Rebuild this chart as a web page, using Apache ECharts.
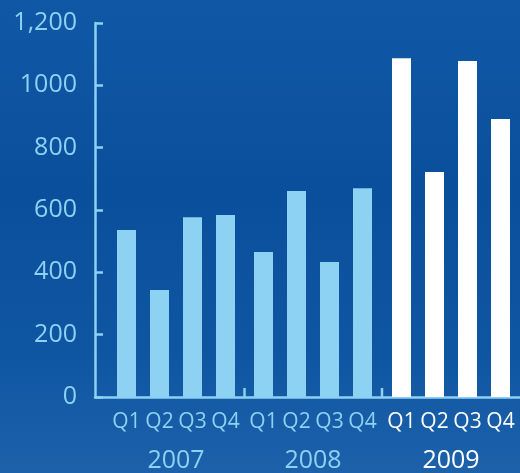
<!DOCTYPE html>
<html>
<head>
<meta charset="utf-8">
<script src="https://cdn.jsdelivr.net/npm/echarts@6/dist/echarts.min.js"></script>
<style>
html,body{margin:0;padding:0;}
#c{width:520px;height:473px;}
</style>
</head>
<body>
<div id="c"></div>
<script>
var quarters = ['Q1','Q2','Q3','Q4'];
var years = ['2007','2008','2009'];
var values2007 = [536, 343, 577, 584];
var values2008 = [465, 661, 433, 670];
var values2009 = [1087, 722, 1078, 892];
var yTickLabels = ['0','200','400','600','800','1000','1,200'];

var light = '#8dd1f3';
var yearValues = [values2007, values2008, values2009];
var yearColors = [light, light, '#ffffff'];
var gridLefts = [110, 247, 385];
var gridW = 132, plotTop = 23, plotH = 374;

var chart = echarts.init(document.getElementById('c'), null, {renderer:'canvas'});
var grids = [{left:95, width:425, top:plotTop, height:plotH}];
var xAxes = [{gridIndex:0, type:'category', data:[''], axisLine:{show:true, lineStyle:{color:light, width:2.5}}, axisTick:{show:false}, axisLabel:{show:false}}];
var yAxes = [{gridIndex:0, type:'value', min:0, max:1200, interval:200, show:false}];
var series = [];
for (var i = 0; i < 3; i++) {
  var gi = i + 1;
  grids.push({left:gridLefts[i], width:gridW, top:plotTop, height:plotH});
  xAxes.push({gridIndex:gi, type:'category', data:quarters, position:'bottom',
    axisLine:{show:false}, axisTick:{show:false},
    axisLabel:{color:yearColors[i], fontSize:21, fontFamily:'Open Sans', margin:15, interval:0, hideOverlap:false}});
  xAxes.push({gridIndex:gi, type:'category', data:[years[i]], position:'bottom',
    axisLine:{show:false}, axisTick:{show:false},
    axisLabel:{color:yearColors[i], fontSize:25, fontFamily:'Open Sans', margin:51, interval:0}});
  if (i === 0) {
    yAxes.push({gridIndex:gi, type:'value', min:0, max:1200, interval:200, offset:15,
      axisLine:{show:true, lineStyle:{color:light, width:2.5}},
      axisTick:{show:true, inside:true, length:8, lineStyle:{color:light, width:2.5}},
      splitLine:{show:false},
      axisLabel:{color:light, fontSize:25, fontFamily:'Open Sans', margin:18,
        formatter:function(v){ return yTickLabels[Math.round(v/200)]; }}});
  } else {
    yAxes.push({gridIndex:gi, type:'value', min:0, max:1200, interval:200, show:false});
  }
  series.push({type:'bar', xAxisIndex:2*i+1, yAxisIndex:gi, data:yearValues[i], barWidth:19,
    itemStyle:{color:yearColors[i]}, silent:true});
}
var sepX = [(gridLefts[0]+gridW+gridLefts[1])/2, (gridLefts[1]+gridW+gridLefts[2])/2];
var graphics = sepX.map(function(x){
  return {type:'line', shape:{x1:x, y1:plotTop+plotH-9, x2:x, y2:plotTop+plotH}, style:{stroke:light, lineWidth:2.5}};
});
chart.setOption({
  animation:false,
  backgroundColor:{type:'linear', x:0, y:0, x2:0, y2:1, colorStops:[
    {offset:0, color:'#1058a6'},{offset:0.4, color:'#0a4f9c'},{offset:0.75, color:'#0f56a2'},{offset:1, color:'#1c61aa'}]},
  grid:grids, xAxis:xAxes, yAxis:yAxes, series:series, graphic:graphics
});
</script>
</body>
</html>
